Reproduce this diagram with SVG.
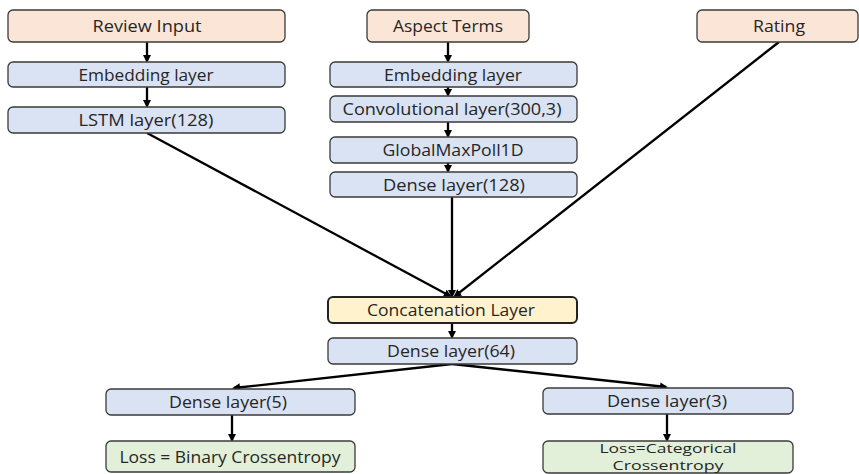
<svg xmlns="http://www.w3.org/2000/svg" width="859" height="474" viewBox="0 0 859 474">
<style>
rect{stroke:#3a3a3a;stroke-width:1.3}
.in{fill:#FBE5D6}.bl{fill:#DAE3F3}.ye{fill:#FFF2CC}.gr{fill:#E2F0D9}
text{font-family:"Open Sans","Liberation Sans",sans-serif;font-size:16px;fill:#262626;text-anchor:middle;dominant-baseline:central}
.sm{font-size:13px}
.c line{stroke:#000;stroke-width:2.3;marker-end:url(#ah)}
</style>
<defs>
<marker id="ah" markerWidth="8" markerHeight="8" refX="6" refY="4" orient="auto" markerUnits="userSpaceOnUse">
<path d="M0,0 L8,4 L0,8 Z" fill="#000"/>
</marker>
</defs>
<rect width="859" height="474" fill="#fff" style="stroke:none"/>
<g class="c" id="connectors">
<line x1="147" y1="42" x2="147" y2="61"/>
<line x1="147" y1="87" x2="147" y2="106"/>
<line x1="448" y1="42" x2="448" y2="61"/>
<line x1="448" y1="87" x2="448" y2="95"/>
<line x1="448" y1="122" x2="448" y2="136"/>
<line x1="448" y1="163" x2="448" y2="171"/>
<line x1="147" y1="133" x2="450" y2="296"/>
<line x1="452" y1="197" x2="452" y2="296"/>
<line x1="779" y1="42" x2="455" y2="296"/>
<line x1="452" y1="323" x2="452" y2="337"/>
<line x1="452" y1="364" x2="234" y2="388"/>
<line x1="452" y1="364" x2="666" y2="387"/>
<line x1="232" y1="415" x2="232" y2="440"/>
<line x1="667" y1="414" x2="667" y2="440"/>
</g>
<g id="review-input"><rect class="in" x="8" y="10" width="277" height="32" rx="5"/><text x="147" y="26" textLength="109" lengthAdjust="spacingAndGlyphs">Review Input</text></g>
<g id="embedding-left"><rect class="bl" x="8" y="62" width="277" height="25" rx="5"/><text x="146" y="74.5" textLength="135" lengthAdjust="spacingAndGlyphs">Embedding layer</text></g>
<g id="lstm"><rect class="bl" x="8" y="107" width="277" height="26" rx="5"/><text x="146" y="120" textLength="135" lengthAdjust="spacingAndGlyphs">LSTM layer(128)</text></g>
<g id="aspect-terms"><rect class="in" x="367" y="10" width="162" height="32" rx="5"/><text x="448" y="26" textLength="110" lengthAdjust="spacingAndGlyphs">Aspect Terms</text></g>
<g id="embedding-mid"><rect class="bl" x="330" y="62" width="247" height="25" rx="5"/><text x="453" y="74.5" textLength="138" lengthAdjust="spacingAndGlyphs">Embedding layer</text></g>
<g id="conv"><rect class="bl" x="330" y="96" width="247" height="26" rx="5"/><text x="452" y="109" textLength="219" lengthAdjust="spacingAndGlyphs">Convolutional layer(300,3)</text></g>
<g id="globalmax"><rect class="bl" x="330" y="137" width="247" height="26" rx="5"/><text x="453" y="150" textLength="141" lengthAdjust="spacingAndGlyphs">GlobalMaxPoll1D</text></g>
<g id="dense128"><rect class="bl" x="330" y="172" width="247" height="25" rx="5"/><text x="454" y="184.5" textLength="142" lengthAdjust="spacingAndGlyphs">Dense layer(128)</text></g>
<g id="rating"><rect class="in" x="697" y="10" width="161" height="32" rx="5"/><text x="779" y="26" textLength="52" lengthAdjust="spacingAndGlyphs">Rating</text></g>
<g id="concat"><rect class="ye" x="328" y="297" width="249" height="26" rx="5" style="stroke-width:2;stroke:#222"/><text x="451" y="310" textLength="168" lengthAdjust="spacingAndGlyphs">Concatenation Layer</text></g>
<g id="dense64"><rect class="bl" x="328" y="338" width="249" height="26" rx="5"/><text x="451" y="351" textLength="128" lengthAdjust="spacingAndGlyphs">Dense layer(64)</text></g>
<g id="dense5"><rect class="bl" x="106" y="389" width="249" height="26" rx="5"/><text x="228" y="402" textLength="118" lengthAdjust="spacingAndGlyphs">Dense layer(5)</text></g>
<g id="dense3"><rect class="bl" x="543" y="388" width="250" height="26" rx="5"/><text x="667" y="401" textLength="120" lengthAdjust="spacingAndGlyphs">Dense layer(3)</text></g>
<g id="loss-binary"><rect class="gr" x="106" y="441" width="249" height="31" rx="5"/><text x="230" y="457" textLength="221" lengthAdjust="spacingAndGlyphs">Loss = Binary Crossentropy</text></g>
<g id="loss-cat"><rect class="gr" x="543" y="441" width="250" height="32" rx="5"/><text class="sm" x="668" y="448" textLength="137" lengthAdjust="spacingAndGlyphs">Loss=Categorical</text><text class="sm" x="668" y="465" textLength="111" lengthAdjust="spacingAndGlyphs">Crossentropy</text></g>
</svg>
